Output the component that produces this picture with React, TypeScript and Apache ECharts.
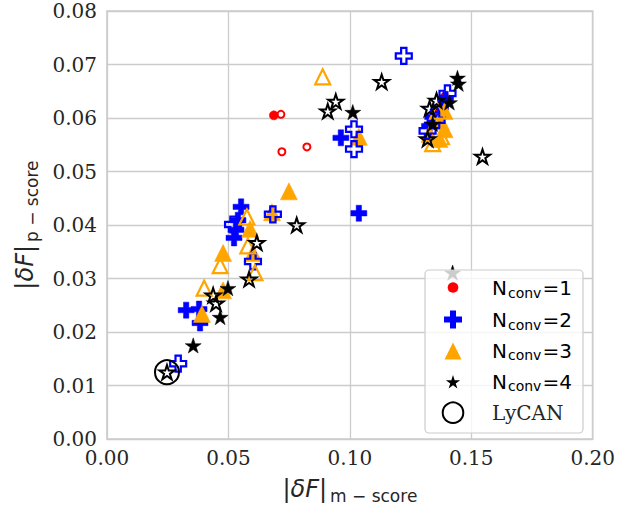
import { useEffect, useRef } from 'react';
import * as echarts from 'echarts';

// ---- data (x = |dF| m-score, y = |dF| p-score) ----
const X_TICKS_INTERVAL = 0.05;
const Y_TICKS_INTERVAL = 0.01;

const N1_FILLED = [[0.0687, 0.0605], [0.1369, 0.0613]];
const N1_HOLLOW = [[0.0716, 0.0607], [0.0720, 0.0537], [0.0823, 0.0546], [0.1390, 0.0640]];
const N2_FILLED = [
  [0.0552, 0.0434], [0.0539, 0.0409], [0.0531, 0.0391], [0.0523, 0.0376], [0.0326, 0.0241],
  [0.0383, 0.0217], [0.0379, 0.0243], [0.1037, 0.0422], [0.0963, 0.0563], [0.1394, 0.0635],
  [0.1373, 0.0620], [0.1341, 0.0602], [0.1328, 0.0585],
];
const N2_HOLLOW = [
  [0.0519, 0.0401], [0.0293, 0.0141], [0.1017, 0.0579], [0.1017, 0.0542], [0.1222, 0.0716],
  [0.0683, 0.0420], [0.0601, 0.0332], [0.1402, 0.0646], [0.1357, 0.0596], [0.1320, 0.0576],
];
const N3_FILLED = [
  [0.0749, 0.0463], [0.1037, 0.0565], [0.0589, 0.0393], [0.0601, 0.0348], [0.0478, 0.0348],
  [0.0478, 0.0278], [0.0391, 0.0234], [0.0679, 0.0424], [0.1390, 0.0613], [0.1373, 0.0594],
  [0.1390, 0.0579], [0.1369, 0.0561], [0.1328, 0.0570],
];
const N3_HOLLOW = [
  [0.0888, 0.0677], [0.0466, 0.0324], [0.0400, 0.0282], [0.0580, 0.0361], [0.0609, 0.0311],
  [0.0576, 0.0415], [0.1341, 0.0552], [0.1377, 0.0565], [0.1361, 0.0613],
];
const N4_FILLED = [
  [0.1012, 0.0611], [0.1443, 0.0675], [0.1447, 0.0664], [0.1410, 0.0629], [0.0355, 0.0175],
  [0.0498, 0.0282], [0.0466, 0.0228], [0.1423, 0.0311], [0.1341, 0.0589],
];
const N4_HOLLOW = [
  [0.0942, 0.0631], [0.0909, 0.0613], [0.1131, 0.0668], [0.1546, 0.0528], [0.0781, 0.0400],
  [0.0617, 0.0367], [0.0585, 0.0299], [0.0449, 0.0254], [0.0437, 0.0269], [0.0247, 0.0125],
  [0.1357, 0.0633], [0.1328, 0.0618], [0.1320, 0.0561],
];
const LYCAN = [[0.0247, 0.0125]];

const LEGEND_LABELS = ['1', '2', '3', '4'];

// ---- marker shapes ----
function starPts(cx: number, cy: number, R: number) {
  const pts: number[][] = [];
  for (let i = 0; i < 10; i++) {
    const r = i % 2 === 0 ? R : R * 0.381966;
    const a = -Math.PI / 2 + (i * Math.PI) / 5;
    pts.push([cx + r * Math.cos(a), cy + r * Math.sin(a)]);
  }
  return pts;
}
function plusPts(cx: number, cy: number, s: number) {
  const u = s / 6;
  return [[-1, -3], [1, -3], [1, -1], [3, -1], [3, 1], [1, 1], [1, 3], [-1, 3], [-1, 1], [-3, 1], [-3, -1], [-1, -1]]
    .map(([x, y]) => [cx + x * u, cy + y * u]);
}
const STAR_PATH = 'path://' + starPts(0, 0, 10).map((p, i) => (i ? 'L' : 'M') + p[0].toFixed(3) + ',' + p[1].toFixed(3)).join('') + 'Z';
const PLUS_PATH = 'path://M-1,-3L1,-3L1,-1L3,-1L3,1L1,1L1,3L-1,3L-1,1L-3,1L-3,-1L-1,-1Z';

const RED = '#ff0000';
const BLUE = '#0000ff';
const ORANGE = '#ffa500';
const BLACK = '#000000';
const TEXT = '#262626';
const GRIDC = '#cccccc';

function sc(name: string, data: number[][], symbol: string, size: number, color: string, hollow: boolean, bw = 2) {
  return {
    type: 'scatter',
    name,
    data,
    symbol,
    symbolSize: size,
    symbolKeepAspect: true,
    itemStyle: hollow
      ? { color: 'rgba(0,0,0,0)', borderColor: color, borderWidth: bw, opacity: 1 }
      : { color, borderColor: color, borderWidth: 0.5, opacity: 1 },
    emphasis: { disabled: true },
  };
}

export default function App() {
  const ref = useRef<HTMLDivElement>(null);
  useEffect(() => {
    if (!ref.current) return;
    const chart = echarts.init(ref.current, undefined, { renderer: 'svg' });
    const nameRich = {
      b: { fontFamily: 'DejaVu Sans', fontSize: 24, color: TEXT, lineHeight: 28 },
      i: { fontFamily: 'DejaVu Sans', fontSize: 24, fontStyle: 'italic', color: TEXT, lineHeight: 28 },
      s: { fontFamily: 'DejaVu Sans', fontSize: 17, color: TEXT, lineHeight: 18, padding: [14, 0, 0, 3] },
    };
    const legRich = {
      n: { fontFamily: 'DejaVu Sans', fontSize: 20, color: TEXT, lineHeight: 24 },
      s: { fontFamily: 'DejaVu Sans', fontSize: 14, color: TEXT, lineHeight: 14, padding: [9, 1, 0, 1] },
    };
    const legY = [288, 320, 350.5, 381.5];
    const LX = 453;
    const graphic: any[] = [
      {
        type: 'rect', z: 100, shape: { x: 425, y: 270, width: 158, height: 163, r: 4 },
        style: { fill: 'rgba(255,255,255,0.8)', stroke: GRIDC, lineWidth: 1.2 },
      },
      { type: 'circle', z: 101, shape: { cx: LX, cy: 287.5, r: 5.3 }, style: { fill: RED } },
      { type: 'polygon', z: 101, shape: { points: plusPts(LX, 319.5, 18) }, style: { fill: BLUE } },
      { type: 'polygon', z: 101, shape: { points: [[LX, 342.5], [LX + 8.5, 359.5], [LX - 8.5, 359.5]] }, style: { fill: ORANGE } },
      { type: 'polygon', z: 101, shape: { points: starPts(LX, 382.5, 7.5) }, style: { fill: BLACK } },
      { type: 'circle', z: 101, shape: { cx: LX, cy: 412.7, r: 10.3 }, style: { fill: 'none', stroke: BLACK, lineWidth: 2 } },
      ...LEGEND_LABELS.map((l, k) => ({
        type: 'text', z: 101, x: 492, y: legY[k],
        style: { text: `{n|N}{s|conv}{n|=${l}}`, rich: legRich, align: 'left', verticalAlign: 'middle' },
      })),
      {
        type: 'text', z: 101, x: 492, y: 413,
        style: { text: 'LyCAN', fontFamily: 'DejaVu Serif', fontSize: 20, fill: TEXT, align: 'left', verticalAlign: 'middle' },
      },
    ];
    const axisCommon = {
      type: 'value',
      axisLine: { show: false },
      axisTick: { show: false },
      splitLine: { show: true, lineStyle: { color: GRIDC, width: 1.3 } },
      nameLocation: 'middle',
      nameTextStyle: { rich: nameRich },
    };
    chart.setOption({
      animation: false,
      backgroundColor: '#ffffff',
      grid: { left: 107, right: 25, top: 11, bottom: 65.5, show: true, borderColor: GRIDC, borderWidth: 1.6 },
      xAxis: {
        ...axisCommon,
        min: 0, max: 0.2, interval: X_TICKS_INTERVAL,
        axisLabel: { formatter: (v: number) => v.toFixed(2), fontFamily: 'DejaVu Serif', fontSize: 20, color: TEXT, margin: 9 },
        name: '{b||}{i|δF}{b||}{s|m − score}',
        nameGap: 33,
      },
      yAxis: {
        ...axisCommon,
        min: 0, max: 0.08, interval: Y_TICKS_INTERVAL,
        axisLabel: { formatter: (v: number) => v.toFixed(2), fontFamily: 'DejaVu Serif', fontSize: 20, color: TEXT, margin: 10 },
        name: '{b||}{i|δF}{b||}{s|p − score}',
        nameRotate: 90,
        nameGap: 68,
      },
      graphic,
      series: [
        sc('N1 filled', N1_FILLED, 'circle', 9, RED, false),
        sc('N1 hollow', N1_HOLLOW, 'circle', 7, RED, true, 2),
        sc('N2 filled', N2_FILLED, PLUS_PATH, 16, BLUE, false),
        sc('N3 filled', N3_FILLED, 'triangle', 17, ORANGE, false),
        sc('N2 hollow', N2_HOLLOW, PLUS_PATH, 16, BLUE, true, 2.2),
        sc('N3 hollow', N3_HOLLOW, 'triangle', 15, ORANGE, true, 2.2),
        sc('N4 filled', N4_FILLED, STAR_PATH, 16, BLACK, false),
        sc('N4 hollow', N4_HOLLOW, STAR_PATH, 15, BLACK, true, 2),
        sc('LyCAN', LYCAN, 'circle', 24, BLACK, true, 2),
      ],
    });
    return () => chart.dispose();
  }, []);
  return <div ref={ref} style={{ position: 'fixed', left: 0, top: 0, width: 618, height: 509 }} />;
}
